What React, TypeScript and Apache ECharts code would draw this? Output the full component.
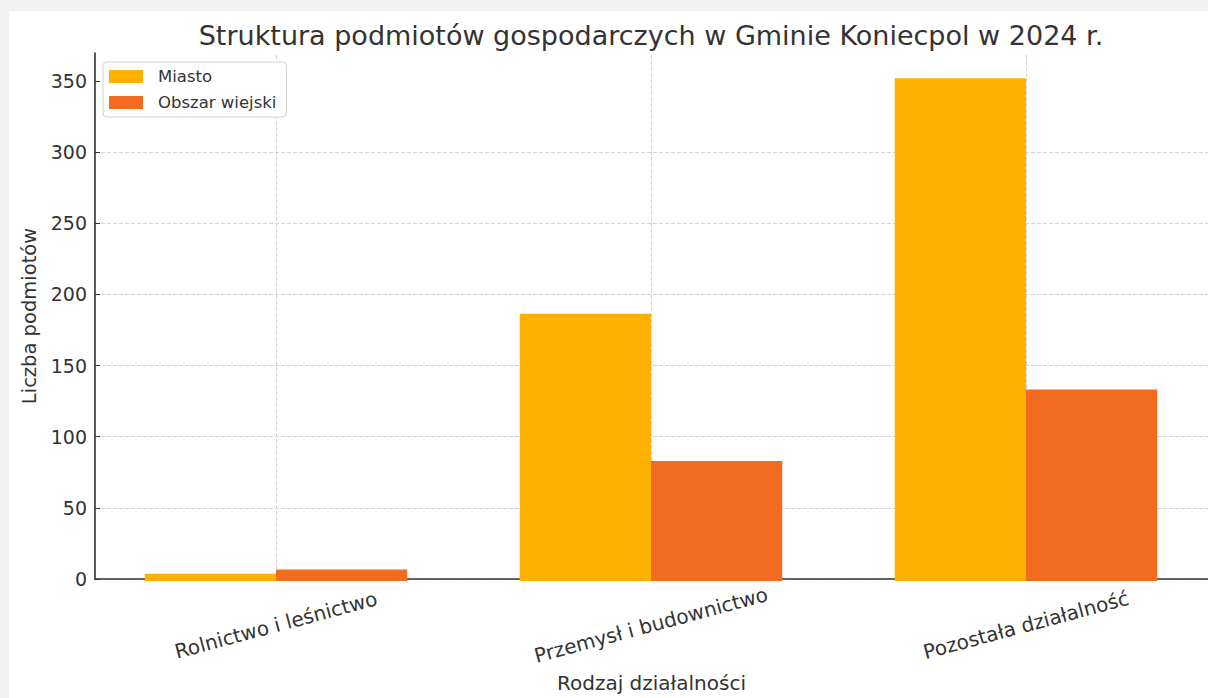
import React, { useEffect, useRef } from 'react';
import * as echarts from 'echarts';

const categories = ['Rolnictwo i leśnictwo', 'Przemysł i budownictwo', 'Pozostała działalność'];
const seriesNames = ['Miasto', 'Obszar wiejski'];
const miasto = [5, 187, 352];
const obszarWiejski = [8, 84, 134];
const yTicks = [0, 50, 100, 150, 200, 250, 300, 350];
const yMax = 369.6;
const yInterval = 50;

const FONT = 'DejaVu Sans';
const TEXT = '#333333';
const GRIDC = '#d3d3d3';

export default function App() {
  const ref = useRef<HTMLDivElement>(null);
  useEffect(() => {
    if (!ref.current) return;
    const chart = echarts.init(ref.current, null, { renderer: 'svg' });
    chart.setOption({
      animation: false,
      textStyle: { fontFamily: FONT },
      graphic: [
        {
          type: 'text',
          x: 642,
          y: 24,
          style: {
            text: 'Struktura podmiotów gospodarczych w Gminie Koniecpol w 2024 r.',
            fontSize: 27,
            fontFamily: FONT,
            fill: TEXT,
            textAlign: 'center',
            textVerticalAlign: 'middle',
          },
        },
      ],
      legend: {
        data: seriesNames,
        orient: 'vertical',
        left: 94,
        top: 51,
        icon: 'rect',
        itemWidth: 34,
        itemHeight: 13,
        itemGap: 9,
        backgroundColor: '#ffffff',
        borderColor: '#d0d0d0',
        borderWidth: 1,
        borderRadius: 4,
        padding: [6, 10, 6, 6],
        textStyle: { fontSize: 16.5, color: TEXT, fontFamily: FONT, padding: [0, 0, 0, 10] },
      },
      grid: [
        { left: 79.5, width: 1125, top: 42, bottom: 117 },
        { left: 86, right: 11, top: 42, bottom: 117 },
      ],
      xAxis: [
        {
          type: 'category',
          gridIndex: 0,
          position: 'bottom',
          data: categories,
          axisLine: { show: false },
          axisTick: {
            show: true,
            alignWithLabel: true,
            inside: true,
            length: 528,
            lineStyle: { color: GRIDC, type: [4, 2], width: 1 },
          },
          axisLabel: {
            rotate: 15,
            align: 'center',
            verticalAlign: 'middle',
            margin: 44,
            fontSize: 20,
            color: TEXT,
            fontFamily: FONT,
          },
          splitLine: { show: false },
        },
        {
          type: 'category',
          gridIndex: 0,
          position: 'bottom',
          data: categories,
          axisLine: { show: false },
          axisTick: { show: true, alignWithLabel: true, inside: true, length: 4, lineStyle: { color: TEXT, width: 1.2 } },
          axisLabel: { show: false },
          splitLine: { show: false },
        },
        {
          type: 'value',
          gridIndex: 1,
          position: 'bottom',
          min: 0,
          max: 1,
          axisLine: { show: true, lineStyle: { color: TEXT, width: 1.6 } },
          axisTick: { show: false },
          axisLabel: { show: false },
          splitLine: { show: false },
          name: 'Rodzaj działalności',
          nameLocation: 'middle',
          nameGap: 94,
          nameTextStyle: { fontSize: 20, color: TEXT, fontFamily: FONT },
        },
      ],
      yAxis: [
        { type: 'value', gridIndex: 0, min: 0, max: yMax, show: false },
        {
          type: 'value',
          gridIndex: 1,
          min: 0,
          max: yMax,
          interval: yInterval,
          axisLine: { show: true, lineStyle: { color: TEXT, width: 1.6 } },
          axisTick: { show: true, inside: true, length: 5, customValues: yTicks, lineStyle: { color: TEXT } },
          axisLabel: {
            fontSize: 19,
            margin: 8,
            color: TEXT,
            fontFamily: FONT,
            customValues: yTicks,
          },
          splitLine: { show: true, showMaxLine: false, lineStyle: { color: GRIDC, type: [4, 2], width: 1 } },
          name: 'Liczba podmiotów',
          nameLocation: 'middle',
          nameGap: 54,
          nameTextStyle: { fontSize: 19.5, color: TEXT, fontFamily: FONT },
        },
      ],
      series: [
        {
          name: seriesNames[0],
          type: 'bar',
          xAxisIndex: 0,
          yAxisIndex: 0,
          data: miasto,
          itemStyle: { color: '#FFB000' },
          barGap: '0%',
          barCategoryGap: '30%',
        },
        {
          name: seriesNames[1],
          type: 'bar',
          xAxisIndex: 0,
          yAxisIndex: 0,
          data: obszarWiejski,
          itemStyle: { color: '#F26B21' },
          barGap: '0%',
          barCategoryGap: '30%',
        },
      ],
    });
    return () => chart.dispose();
  }, []);

  return (
    <div style={{ position: 'fixed', left: 0, top: 0, width: 1208, height: 698, background: '#f1f1f1', overflow: 'hidden' }}>
      <div ref={ref} style={{ position: 'absolute', left: 9, top: 11, width: 1210, height: 687, background: '#ffffff' }} />
    </div>
  );
}
